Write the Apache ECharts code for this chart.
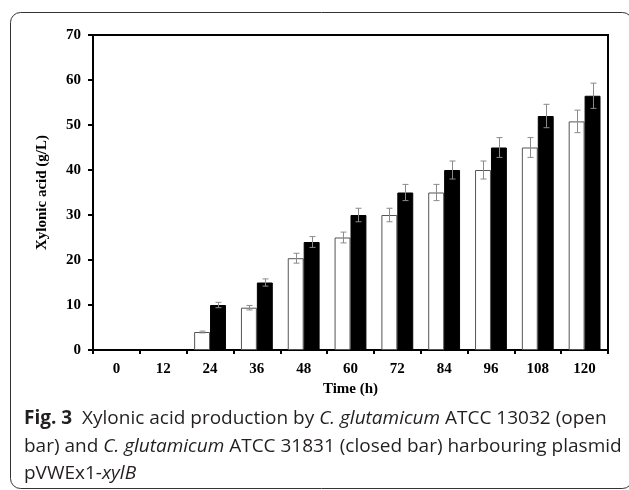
<!DOCTYPE html>
<html>
<head>
<meta charset="utf-8">
<script src="https://cdn.jsdelivr.net/npm/echarts@6/dist/echarts.min.js"></script>
<style>
html,body{margin:0;padding:0;background:#fff;}
#chart{width:629px;height:490px;}
</style>
</head>
<body>
<div id="chart"></div>
<script>
var categories = ['0','12','24','36','48','60','72','84','96','108','120'];
var openValues = [0, 0, 4.0, 9.4, 20.4, 25.0, 30.0, 35.0, 40.0, 45.0, 50.8];
var closedValues = [0, 0, 10.0, 15.0, 24.0, 30.0, 35.0, 40.0, 45.0, 52.0, 56.5];
var openErr = [0, 0, 0.2, 0.5, 1.1, 1.2, 1.5, 1.8, 2.0, 2.2, 2.5];
var closedErr = [0, 0, 0.6, 0.8, 1.2, 1.5, 1.8, 2.0, 2.2, 2.6, 2.8];
var yTicks = [0, 10, 20, 30, 40, 50, 60, 70];

var serif = '"Liberation Serif", "Times New Roman", serif';
var sans = '"Open Sans", "Noto Sans", sans-serif';

function barItems(vals, style) {
  return vals.map(function (v) {
    return v === 0 ? { value: v, itemStyle: { opacity: 0 } } : { value: v, itemStyle: style };
  });
}

function errData(vals, errs) {
  var out = [];
  for (var i = 0; i < vals.length; i++) out.push([i, vals[i], errs[i]]);
  return out;
}

function errRender(side) {
  return function (params, api) {
    var idx = api.value(0), v = api.value(1), e = api.value(2);
    if (!e) return null;
    var band = api.size([1, 0])[0];
    var bw = band * 0.34;
    var c = api.coord([idx, v]);
    var x = Math.round(c[0] + side * bw / 2) + 0.5;
    var top = api.coord([idx, v + e])[1];
    var bot = api.coord([idx, v - e])[1];
    var cap = 3;
    var st = { stroke: '#8a8a8a', lineWidth: 1 };
    return {
      type: 'group',
      children: [
        { type: 'line', shape: { x1: x, y1: top, x2: x, y2: bot }, style: st },
        { type: 'line', shape: { x1: x - cap, y1: top, x2: x + cap, y2: top }, style: st },
        { type: 'line', shape: { x1: x - cap, y1: bot, x2: x + cap, y2: bot }, style: st }
      ]
    };
  };
}

var openStyle = { color: '#fff', borderColor: '#555', borderWidth: 1 };
var closedStyle = { color: '#000', borderColor: '#000', borderWidth: 1 };

var chart = echarts.init(document.getElementById('chart'), null, { renderer: 'canvas' });
chart.setOption({
  animation: false,
  backgroundColor: '#fff',
  grid: { left: 93, right: 21, top: 35, bottom: 140, show: true, borderColor: '#000', borderWidth: 2, backgroundColor: 'transparent' },
  xAxis: {
    type: 'category',
    data: categories,
    name: 'Time (h)',
    nameLocation: 'middle',
    nameGap: 31,
    nameTextStyle: { fontFamily: serif, fontWeight: 'bold', fontSize: 15, color: '#000' },
    axisLine: { lineStyle: { color: '#000', width: 2 } },
    axisTick: { show: true, length: 4, lineStyle: { color: '#000', width: 2 } },
    axisLabel: { fontFamily: serif, fontWeight: 'bold', fontSize: 15, color: '#000', margin: 12 },
    splitLine: { show: false }
  },
  yAxis: {
    type: 'value',
    min: 0, max: 70, interval: 10,
    name: 'Xylonic acid (g/L)',
    nameLocation: 'middle',
    nameGap: 43,
    nameRotate: 90,
    nameTextStyle: { fontFamily: serif, fontWeight: 'bold', fontSize: 15, color: '#000' },
    axisLine: { show: true, lineStyle: { color: '#000', width: 2 } },
    axisTick: { show: true, length: 5, lineStyle: { color: '#000', width: 2 } },
    axisLabel: { fontFamily: serif, fontWeight: 'bold', fontSize: 15, color: '#000', margin: 12,
      formatter: function (v) { return yTicks.indexOf(v) >= 0 ? String(v) : ''; } },
    splitLine: { show: false }
  },
  series: [
    { name: 'open', type: 'bar', data: barItems(openValues, openStyle), barWidth: '34%', barGap: '0%' },
    { name: 'closed', type: 'bar', data: barItems(closedValues, closedStyle), barWidth: '34%', barGap: '0%' },
    { type: 'custom', data: errData(openValues, openErr), renderItem: errRender(-1), z: 10,
      encode: { x: 0, y: 1 } },
    { type: 'custom', data: errData(closedValues, closedErr), renderItem: errRender(1), z: 10,
      encode: { x: 0, y: 1 } }
  ],
  graphic: [
    { type: 'rect', silent: true, z: -1,
      shape: { x: 10.5, y: 12.5, width: 622, height: 476, r: 10 },
      style: { fill: 'none', stroke: '#333', lineWidth: 1 } },
    { type: 'text', left: 24, top: 405,
      style: {
        text: '{b|Fig. 3}  Xylonic acid production by {i|C. glutamicum} ATCC 13032 (open\nbar) and {i|C. glutamicum} ATCC 31831 (closed bar) harbouring plasmid\npVWEx1-{i|xylB}',
        fontFamily: sans, fontSize: 19, lineHeight: 27.5, fill: '#231f20',
        rich: {
          b: { fontFamily: sans, fontSize: 19, fontWeight: 'bold', lineHeight: 27.5, fill: '#231f20' },
          i: { fontFamily: sans, fontSize: 19, fontStyle: 'italic', lineHeight: 27.5, fill: '#231f20' }
        }
      } }
  ]
});
</script>
</body>
</html>
